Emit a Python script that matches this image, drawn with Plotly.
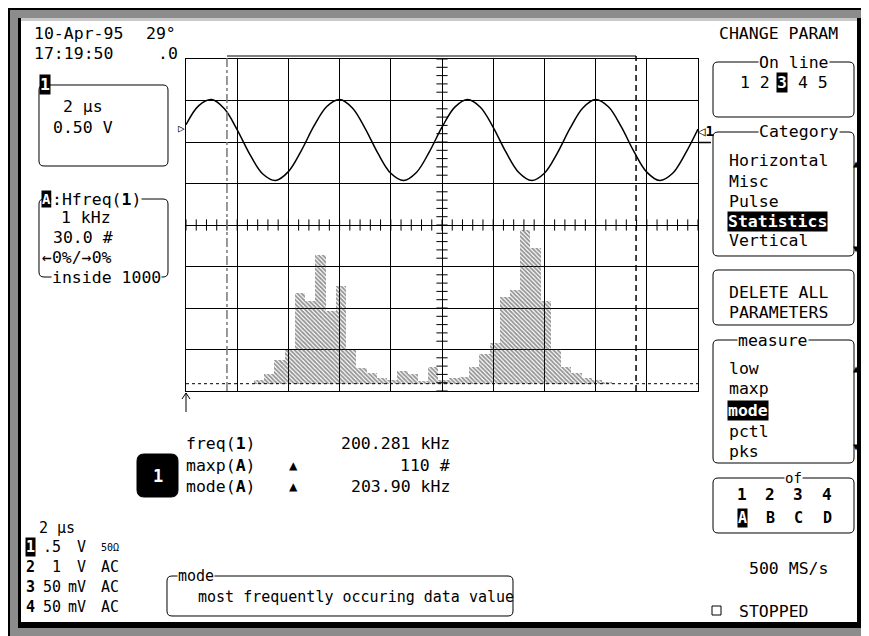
import plotly.graph_objects as go
import numpy as np

# ---------------- data ----------------
time_us = [0.0, 0.5, 1.0, 1.5, 2.0, 2.5, 3.0, 3.5, 4.0, 4.5, 5.0, 5.5, 6.0, 6.5,
           7.0, 7.5, 8.0, 8.5, 9.0, 9.5, 10.0, 10.5, 11.0, 11.5, 12.0, 12.5,
           13.0, 13.5, 14.0, 14.5, 15.0, 15.5, 16.0, 16.5, 17.0, 17.5, 18.0,
           18.5, 19.0, 19.5, 20.0]
volts = [0.208, 0.438, 0.511, 0.400, 0.147, -0.153, -0.385, -0.463, -0.357,
         -0.107, 0.193, 0.428, 0.512, 0.410, 0.162, -0.138, -0.377, -0.464,
         -0.367, -0.122, 0.178, 0.420, 0.512, 0.419, 0.177, -0.123, -0.368,
         -0.464, -0.376, -0.137, 0.163, 0.410, 0.512, 0.424, 0.185, -0.116,
         -0.363, -0.464, -0.380, -0.144, 0.155]

hist_khz = [177.9, 178.9, 179.9, 180.9, 181.9, 182.9, 183.9, 184.9, 185.9,
            186.9, 187.9, 188.9, 189.9, 190.9, 191.9, 192.9, 193.9, 194.9,
            195.9, 196.9, 197.9, 198.9, 199.9, 200.9, 201.9, 202.9, 203.9,
            204.9, 205.9, 206.9, 207.9, 208.9, 209.9, 210.9, 211.9]
hist_counts = [3, 7, 17, 24, 65, 59, 92, 52, 70, 24, 11, 8, 4, 3, 9, 7, 2, 12,
               3, 4, 5, 12, 21, 29, 62, 67, 110, 97, 59, 25, 12, 8, 4, 3, 1]

cursor_t = [1.6, 17.58]          # dash-dot and dashed cursors (µs)

readout_names = ["freq(<b>1</b>)", "maxp(<b>A</b>)", "mode(<b>A</b>)"]
readout_values = ["200.281 kHz", "110 #", "203.90 kHz"]
category_items = ["Horizontal", "Misc", "Pulse", "Statistics", "Vertical"]
measure_items = ["low", "maxp", "mode", "pctl", "pks"]
channel_rows = [("1", ".5", "V", "50Ω"), ("2", "1", "V", "AC"),
                ("3", "50", "mV", "AC"), ("4", "50", "mV", "AC")]

# ---------------- geometry helpers ----------------
# the page places the figure 8 px from the window's top-left corner
OFF = 8
WIN_W, WIN_H = 869, 636
FW, FH = WIN_W - OFF, WIN_H - OFF
L, R, T_, B = 186, 698, 59, 391      # graticule in window pixels
W, H = R - L, B - T_
FONT = "DejaVu Sans Mono"


def px(x):
    return (x - L) / W


def py(y):
    return (B - y) / H


ann = []
shapes = []


def T(s, x, y, size=16.5, anchor="left", color="#000", bg=None, yanchor="middle"):
    d = dict(text=s, x=px(x), y=py(y), xref="paper", yref="paper",
             xanchor=anchor, yanchor=yanchor, showarrow=False,
             font=dict(family=FONT, size=size, color=color), borderpad=0)
    if bg:
        d["bgcolor"] = bg
    ann.append(d)


def rect(x0, y0, x1, y1, fill=None, line=None, lw=0, layer="above"):
    shapes.append(dict(type="rect", xref="paper", yref="paper",
                       x0=px(x0), x1=px(x1), y0=py(y0), y1=py(y1),
                       fillcolor=fill if fill else "rgba(0,0,0,0)",
                       line=dict(color=line if line else "rgba(0,0,0,0)", width=lw),
                       layer=layer))


def rrect(x0, y0, x1, y1, r=5, fill=None, lw=1):
    pts = [("M", x0 + r, y0), ("L", x1 - r, y0), ("Q", x1, y0, x1, y0 + r),
           ("L", x1, y1 - r), ("Q", x1, y1, x1 - r, y1), ("L", x0 + r, y1),
           ("Q", x0, y1, x0, y1 - r), ("L", x0, y0 + r), ("Q", x0, y0, x0 + r, y0)]
    path = ""
    for p in pts:
        cmd = p[0]
        coords = p[1:]
        segs = []
        for i in range(0, len(coords), 2):
            segs.append(f"{px(coords[i]):.5f},{py(coords[i+1]):.5f}")
        path += cmd + " " + " ".join(segs) + " "
    path += "Z"
    shapes.append(dict(type="path", xref="paper", yref="paper", path=path,
                       fillcolor=fill if fill else "rgba(0,0,0,0)",
                       line=dict(color="#000", width=lw), layer="above"))


def pline(x0, y0, x1, y1, color="#000", lw=1, dash="solid", layer="above"):
    shapes.append(dict(type="line", xref="paper", yref="paper",
                       x0=px(x0), x1=px(x1), y0=py(y0), y1=py(y1),
                       line=dict(color=color, width=lw, dash=dash), layer=layer))


# ---------------- bezel / screen ----------------
rect(OFF, OFF, WIN_W, 10, fill="#000", layer="below")
rect(OFF, OFF, 10, WIN_H, fill="#000", layer="below")
rect(20, 20, 859, 623, fill="#ffffff", layer="below")
rect(18, 18, 861, 21, fill="#c8c8c8", layer="below")
rect(18, 18, 21, 628, fill="#000", layer="below")
rect(857, 18, 861, 628, fill="#000", layer="below")
rect(18, 622, 861, 628, fill="#000", layer="below")

# ---------------- figure traces ----------------
fig = go.Figure()

fig.add_trace(go.Bar(
    x=hist_khz, y=hist_counts, xaxis="x2", yaxis="y2", width=1.0,
    marker=dict(color="rgba(0,0,0,0)", line=dict(width=0),
                pattern=dict(shape="\\", size=3, solidity=0.6,
                             fgcolor="#2a2a2a", bgcolor="rgba(0,0,0,0)")),
    showlegend=False, hoverinfo="skip"))

# graticule centre-line minor ticks
hx = np.arange(0, 20.001, 0.4)
fig.add_trace(go.Scatter(x=hx, y=[-1.0] * len(hx), mode="markers",
                         marker=dict(symbol="line-ns", size=8, color="#000",
                                     line=dict(width=1, color="#000")),
                         showlegend=False, hoverinfo="skip"))
vy = np.arange(-3, 1.0001, 0.1)
fig.add_trace(go.Scatter(x=[10.0] * len(vy), y=vy, mode="markers",
                         marker=dict(symbol="line-ew", size=8, color="#000",
                                     line=dict(width=1, color="#000")),
                         showlegend=False, hoverinfo="skip"))

fig.add_trace(go.Scatter(x=time_us, y=volts, mode="lines",
                         line=dict(color="#000", width=1.5, shape="spline", smoothing=1.0),
                         showlegend=False, hoverinfo="skip"))

# histogram dotted baseline
shapes.append(dict(type="line", xref="paper", yref="y2", x0=0, x1=1, y0=0, y1=0,
                   line=dict(color="#000", width=1, dash="dot"), layer="above"))

# cursors
shapes.append(dict(type="line", xref="x", yref="paper", x0=cursor_t[0], x1=cursor_t[0],
                   y0=0, y1=py(56), line=dict(color="#777", width=1.5, dash="dashdot"),
                   layer="above"))
shapes.append(dict(type="line", xref="x", yref="paper", x0=cursor_t[1], x1=cursor_t[1],
                   y0=0, y1=py(56), line=dict(color="#000", width=1.5, dash="6px,4px"),
                   layer="above"))
shapes.append(dict(type="line", xref="x", yref="paper", x0=cursor_t[0], x1=cursor_t[1],
                   y0=py(56), y1=py(56), line=dict(color="#000", width=1.2), layer="above"))

# trigger marker arrow below grid
shapes.append(dict(type="path", xref="paper", yref="paper",
                   path=f"M {px(186):.5f},{py(412):.5f} L {px(186):.5f},{py(393):.5f} "
                        f"M {px(182):.5f},{py(399):.5f} L {px(186):.5f},{py(393):.5f} "
                        f"L {px(190):.5f},{py(399):.5f}",
                   line=dict(color="#000", width=1), layer="above"))

# ---------------- texts: top left ----------------
T("10-Apr-95", 33, 34)
T("29°", 145, 34)
T("17:19:50", 33, 53)
T(".0", 157, 53)

rrect(39, 85, 168, 166)
T("<b>1</b>", 45, 84, color="#fff", bg="#000", anchor="center")
T("2 µs", 62, 106)
T("0.50 V", 52, 127)

rrect(39, 199, 168, 277)
T("<b>A</b>", 46, 199, size=14, color="#fff", bg="#000", anchor="center")
T(":Hfreq(<b>1</b>)", 51, 199, bg="#fff")
T("1 kHz", 60, 217)
T("30.0 #", 52, 237)
T("←0%/→0%", 41, 257, bg="#fff")
T("inside 1000", 51, 277, bg="#fff")

# level markers
T("▷", 181, 129, size=11, anchor="center")
T("◁<b>1</b>", 696, 131, size=14)
pline(698, 142.5, 711, 142.5, lw=1.5)

# ---------------- readout ----------------
for i, (nm, val) in enumerate(zip(readout_names, readout_values)):
    yy = [443, 465, 486][i]
    T(nm, 185, yy)
    T(val, 451, yy, anchor="right")
    if i > 0:
        T("▲", 293, yy, size=14, anchor="center")
rrect(137, 454, 178, 497, r=7, fill="#000")
T("<b>1</b>", 157.5, 475.5, size=17, color="#fff", anchor="center")

# ---------------- bottom left ----------------
T("2 µs", 38, 528, size=15)
for i, (ch, num, unit, cpl) in enumerate(channel_rows):
    yy = [547, 567, 587, 607][i]
    if i == 0:
        T(f"<b>{ch}</b>", 30, yy, size=15, color="#fff", bg="#000", anchor="center")
    else:
        T(f"<b>{ch}</b>", 30, yy, size=15, anchor="center")
    T(num, 62, yy, size=15, anchor="right")
    T(unit, 87, yy, size=15, anchor="right")
    T(cpl, 100, yy, size=10 if cpl == "50Ω" else 15)

rrect(167, 576, 513, 616)
T("mode", 177, 576, size=15, bg="#fff")
T("most frequently occuring data value", 197, 597, size=15)

# ---------------- right panel ----------------
T("CHANGE PARAM", 718, 34)

rrect(713, 62, 854, 117)
T("On line", 758, 62, bg="#fff")
T("1 2", 739, 82)
T("<b>3</b>", 782, 82, color="#fff", bg="#000", anchor="center")
T("4 5", 797, 82)

rrect(713, 132, 854, 256)
T("Category", 758, 132, bg="#fff")
for i, it in enumerate(category_items):
    yy = [160, 181, 201, 221, 241][i]
    if it == "Statistics":
        T(f"<b>{it}</b>", 727, yy, color="#fff", bg="#000")
    else:
        T(it, 728, yy)
T("▲", 856, 163, size=10, anchor="center")
T("▼", 856, 248, size=10, anchor="center")

rrect(713, 270, 854, 325)
T("DELETE ALL", 728, 292)
T("PARAMETERS", 728, 312)

rrect(713, 340, 854, 463)
T("measure", 737, 340, bg="#fff")
for i, it in enumerate(measure_items):
    yy = [368, 388, 410, 431, 451][i]
    if it == "mode":
        T(f"<b>{it}</b>", 727, yy, color="#fff", bg="#000")
    else:
        T(it, 728, yy)
T("▲", 856, 368, size=10, anchor="center")
T("▼", 856, 447, size=10, anchor="center")

rrect(713, 478, 854, 533)
T("of", 784, 478, size=14, bg="#fff")
for i, (n, l) in enumerate(zip(["1", "2", "3", "4"], ["A", "B", "C", "D"])):
    xx = [742, 770, 798, 827][i]
    T(f"<b>{n}</b>", xx, 494, size=16, anchor="center")
    if i == 0:
        T(f"<b>{l}</b>", xx, 518, size=15, color="#fff", bg="#000", anchor="center")
    else:
        T(f"<b>{l}</b>", xx, 518, size=15, anchor="center")

T("500 MS/s", 748, 568)
rect(712, 606, 721, 615, line="#000", lw=1)
T("STOPPED", 738, 611)

# ---------------- layout ----------------
fig.update_layout(
    width=FW, height=FH,
    margin=dict(l=L - OFF, r=WIN_W - R, t=T_ - OFF, b=WIN_H - B, pad=0),
    paper_bgcolor="#8c8c8c", plot_bgcolor="rgba(0,0,0,0)",
    showlegend=False,
    xaxis=dict(range=[0, 20], dtick=2, tick0=0, showgrid=True, gridcolor="#000",
               gridwidth=1, zeroline=False, showticklabels=False, ticks="",
               showline=True, mirror=True, linecolor="#000", linewidth=1, fixedrange=True),
    yaxis=dict(range=[-3, 1], dtick=0.5, tick0=-3, showgrid=True, gridcolor="#000",
               gridwidth=1, zeroline=False, showticklabels=False, ticks="",
               showline=True, mirror=True, linecolor="#000", linewidth=1, fixedrange=True),
    xaxis2=dict(range=[170.76, 220.76], overlaying="x", anchor="y2", visible=False),
    yaxis2=dict(range=[-5.24, 232.6], overlaying="y", anchor="x2", visible=False),
    bargap=0,
    shapes=shapes,
    annotations=ann,
)

fig.write_html("out.html")
